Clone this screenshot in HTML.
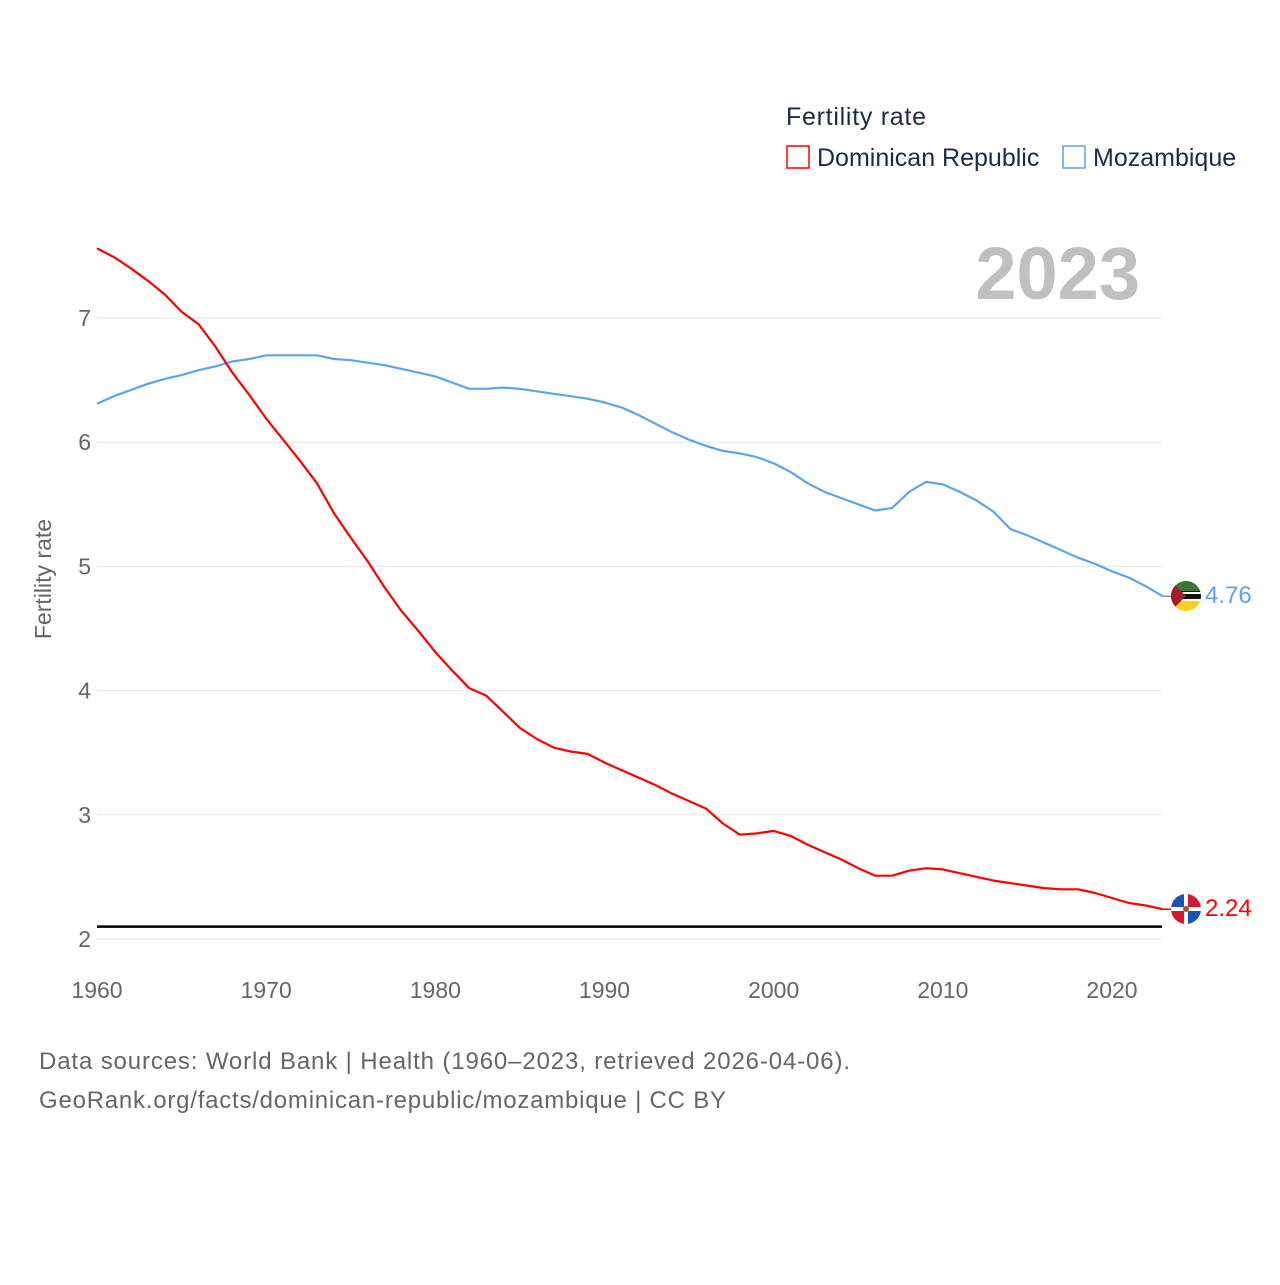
<!DOCTYPE html>
<html><head><meta charset="utf-8"><style>
body{margin:0;background:#fff;font-family:"Liberation Sans",sans-serif}
svg text{font-family:"Liberation Sans",sans-serif}
</style></head><body>
<svg id="chart" width="1280" height="1280" xmlns="http://www.w3.org/2000/svg">
<defs>
<clipPath id="c1"><circle cx="1186" cy="596" r="15"/></clipPath>
<clipPath id="c2"><circle cx="1186" cy="909" r="15"/></clipPath>
</defs>
<text x="786" y="125" font-size="25" fill="#1a2b4a" textLength="140">Fertility rate</text>
<rect x="787" y="146" width="22" height="22" fill="none" stroke="#ff0000" stroke-width="1.5"/>
<text x="817" y="166" font-size="25" fill="#1a2b4a">Dominican Republic</text>
<rect x="1063" y="146" width="22" height="22" fill="none" stroke="#5ea4e8" stroke-width="1.5"/>
<text x="1093" y="166" font-size="25" fill="#1a2b4a">Mozambique</text>
<text x="1140" y="299" font-size="74" font-weight="bold" fill="#c0c0c0" text-anchor="end">2023</text>
<text transform="translate(51,579) rotate(-90)" font-size="23" fill="#666" text-anchor="middle">Fertility rate</text>
<g id="grid"></g><g id="series"></g>
<g clip-path="url(#c1)">
<rect x="1171" y="581" width="30" height="10" fill="#3b7a2e"/><rect x="1171" y="591" width="30" height="10" fill="#111"/><rect x="1171" y="592" width="30" height="2" fill="#fff"/><rect x="1171" y="599" width="30" height="2" fill="#fff"/><rect x="1171" y="601" width="30" height="10" fill="#fcd116"/><polygon points="1171,581 1186,596 1171,611" fill="#a51d2d"/>
</g>
<g clip-path="url(#c2)">
<rect x="1171" y="894" width="30" height="30" fill="#fff"/><rect x="1171" y="894" width="13" height="13" fill="#1a55b5"/><rect x="1188" y="894" width="13" height="13" fill="#d11a35"/><rect x="1171" y="911" width="13" height="13" fill="#d11a35"/><rect x="1188" y="911" width="13" height="13" fill="#1a55b5"/><circle cx="1186" cy="909" r="3" fill="#a52"/>
</g>
<text x="1205" y="603" font-size="24" fill="#5ea4e8">4.76</text>
<text x="1205" y="916" font-size="24" fill="#ff0000">2.24</text>
<text x="39" y="1069" font-size="24" fill="#666" textLength="811">Data sources: World Bank | Health (1960–2023, retrieved 2026-04-06).</text>
<text x="39" y="1108" font-size="24" fill="#666" textLength="687">GeoRank.org/facts/dominican-republic/mozambique | CC BY</text>
</svg>
<script>
const years=[];for(let y=1960;y<=2023;y++)years.push(y);
const drValues=[7.56,7.49,7.40,7.30,7.19,7.05,6.95,6.77,6.56,6.38,6.19,6.02,5.85,5.67,5.43,5.23,5.04,4.83,4.64,4.48,4.31,4.16,4.02,3.96,3.83,3.70,3.61,3.54,3.51,3.49,3.42,3.36,3.30,3.24,3.17,3.11,3.05,2.93,2.84,2.85,2.87,2.83,2.76,2.70,2.64,2.57,2.51,2.51,2.55,2.57,2.56,2.53,2.50,2.47,2.45,2.43,2.41,2.40,2.40,2.37,2.33,2.29,2.27,2.24];
const mzValues=[6.31,6.37,6.42,6.47,6.51,6.54,6.58,6.61,6.65,6.67,6.70,6.70,6.70,6.70,6.67,6.66,6.64,6.62,6.59,6.56,6.53,6.48,6.43,6.43,6.44,6.43,6.41,6.39,6.37,6.35,6.32,6.28,6.22,6.15,6.08,6.02,5.97,5.93,5.91,5.88,5.83,5.76,5.67,5.60,5.55,5.50,5.45,5.47,5.60,5.68,5.66,5.60,5.53,5.44,5.30,5.25,5.19,5.13,5.07,5.02,4.96,4.91,4.84,4.76];
const yTicks=[2,3,4,5,6,7];
const xTicks=[1960,1970,1980,1990,2000,2010,2020];
const replacementRate=[2.1];
const NS="http://www.w3.org/2000/svg";
const xs=y=>97+(y-1960)*(1112-97)/60;
const ys=v=>939-(v-2)*(939-318)/5;
const grid=document.getElementById('grid'),ser=document.getElementById('series');
function mk(tag,at,par){const e=document.createElementNS(NS,tag);for(const k in at)e.setAttribute(k,at[k]);par.appendChild(e);return e;}
yTicks.forEach(t=>{
 const l=mk('line',{x1:97,x2:1162,y1:ys(t),y2:ys(t),stroke:'#e6e6e6','stroke-width':1},grid);
 
 
 const tx=mk('text',{x:91,y:ys(t)+8,'font-size':23,fill:'#666','text-anchor':'end'},grid);tx.textContent=t;
 
 
});
xTicks.forEach(t=>{
 const tx=mk('text',{x:xs(t),y:998,'font-size':23,fill:'#666','text-anchor':'middle'},grid);tx.textContent=t;
 
 
});
replacementRate.forEach(v=>{
 const l=mk('line',{x1:97,x2:1162,y1:ys(v),y2:ys(v),stroke:'#000','stroke-width':2.5},grid);
 
 
});
function line(vals,col,name){
 const d=vals.map((v,i)=>(i?'L':'M')+xs(years[i]).toFixed(1)+','+ys(v).toFixed(1)).join('');
 const p=mk('path',{d:d,fill:'none',stroke:col,'stroke-width':2.2,'stroke-linejoin':'round'},ser);
 
 
 const last=vals[vals.length-1];
 mk('line',{x1:xs(2023),x2:1172,y1:ys(last),y2:ys(last),stroke:col,'stroke-width':1.5},ser);
}
line(mzValues,'#5ea4e8','series-mozambique');
line(drValues,'#ff0000','series-dominican-republic');
</script>
</body></html>
